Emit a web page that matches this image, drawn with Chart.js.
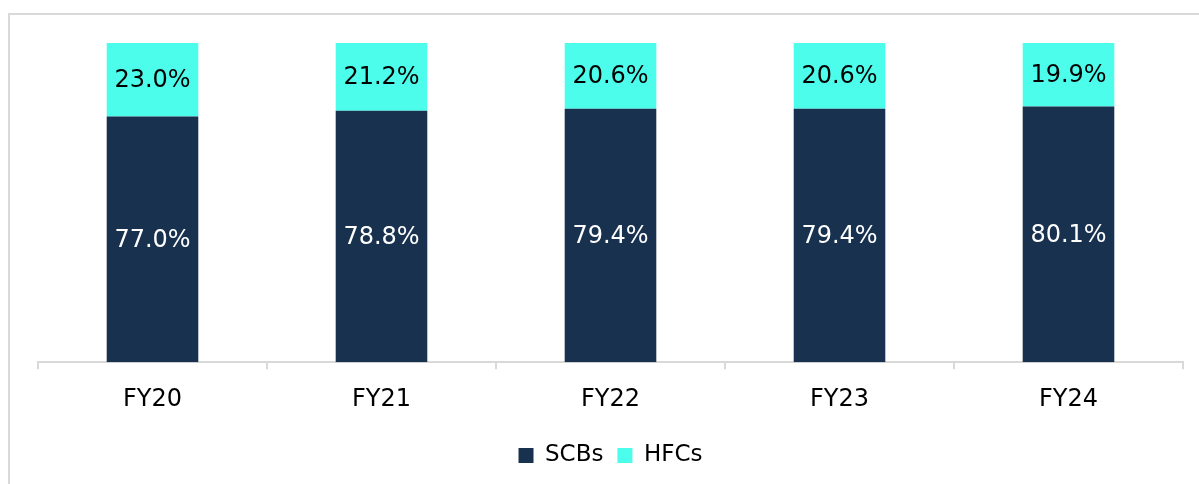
<!DOCTYPE html>
<html>
<head>
<meta charset="utf-8">
<script src="https://cdn.jsdelivr.net/npm/chart.js@4"></script>
<style>
  html, body { margin: 0; padding: 0; background: #fff; overflow: hidden; }
  #frame { position: absolute; left: 8px; top: 13px; width: 1200px; height: 480px; border: 2px solid #d9d9d9; box-sizing: border-box; }
  #wrap { position: absolute; left: 0; top: 0; width: 1199px; height: 484px; }
</style>
</head>
<body>
<div id="frame"></div>
<div id="wrap"><canvas id="shareChart"></canvas></div>
<script>
const years = ["FY20", "FY21", "FY22", "FY23", "FY24"];
const scbShare = [77.0, 78.8, 79.4, 79.4, 80.1];
const hfcShare = [23.0, 21.2, 20.6, 20.6, 19.9];

const NAVY = "#17314f";
const CYAN = "#4dfdeb";
const FONT = "'DejaVu Sans', Verdana, sans-serif";

// draws the % value in the middle of each segment
const barLabels = {
  id: "barLabels",
  afterDatasetsDraw(chart) {
    const ctx = chart.ctx;
    ctx.save();
    ctx.font = "24px " + FONT;
    ctx.textAlign = "center";
    ctx.textBaseline = "middle";
    chart.data.datasets.forEach((ds, i) => {
      const meta = chart.getDatasetMeta(i);
      meta.data.forEach((bar, j) => {
        const mid = (bar.y + bar.base) / 2;
        ctx.fillStyle = i === 0 ? "#ffffff" : "#000000";
        ctx.fillText(ds.data[j].toFixed(1) + "%", bar.x, mid + 1);
      });
    });
    ctx.restore();
  }
};

new Chart(document.getElementById("shareChart"), {
  type: "bar",
  data: {
    labels: years,
    datasets: [
      { label: "SCBs", data: scbShare, backgroundColor: NAVY },
      { label: "HFCs", data: hfcShare, backgroundColor: CYAN }
    ]
  },
  options: {
    responsive: true,
    maintainAspectRatio: false,
    animation: false,
    datasets: { bar: { categoryPercentage: 1, barPercentage: 0.4 } },
    layout: { padding: { left: 38, right: 16, top: 43, bottom: 7 } },
    plugins: {
      tooltip: { enabled: false },
      legend: {
        position: "bottom",
        labels: {
          font: { family: FONT, size: 23 },
          color: "#000",
          boxWidth: 15,
          boxHeight: 15,
          padding: 14
        }
      }
    },
    scales: {
      x: {
        stacked: true,
        grid: { offset: true, drawOnChartArea: false, tickLength: 7, color: "#d9d9d9", lineWidth: 2 },
        border: { color: "#d9d9d9", width: 2 },
        ticks: { font: { family: FONT, size: 24 }, color: "#000", padding: 16 }
      },
      y: {
        stacked: true,
        display: false,
        min: 0,
        max: 100
      }
    }
  },
  plugins: [barLabels]
});
</script>
</body>
</html>
